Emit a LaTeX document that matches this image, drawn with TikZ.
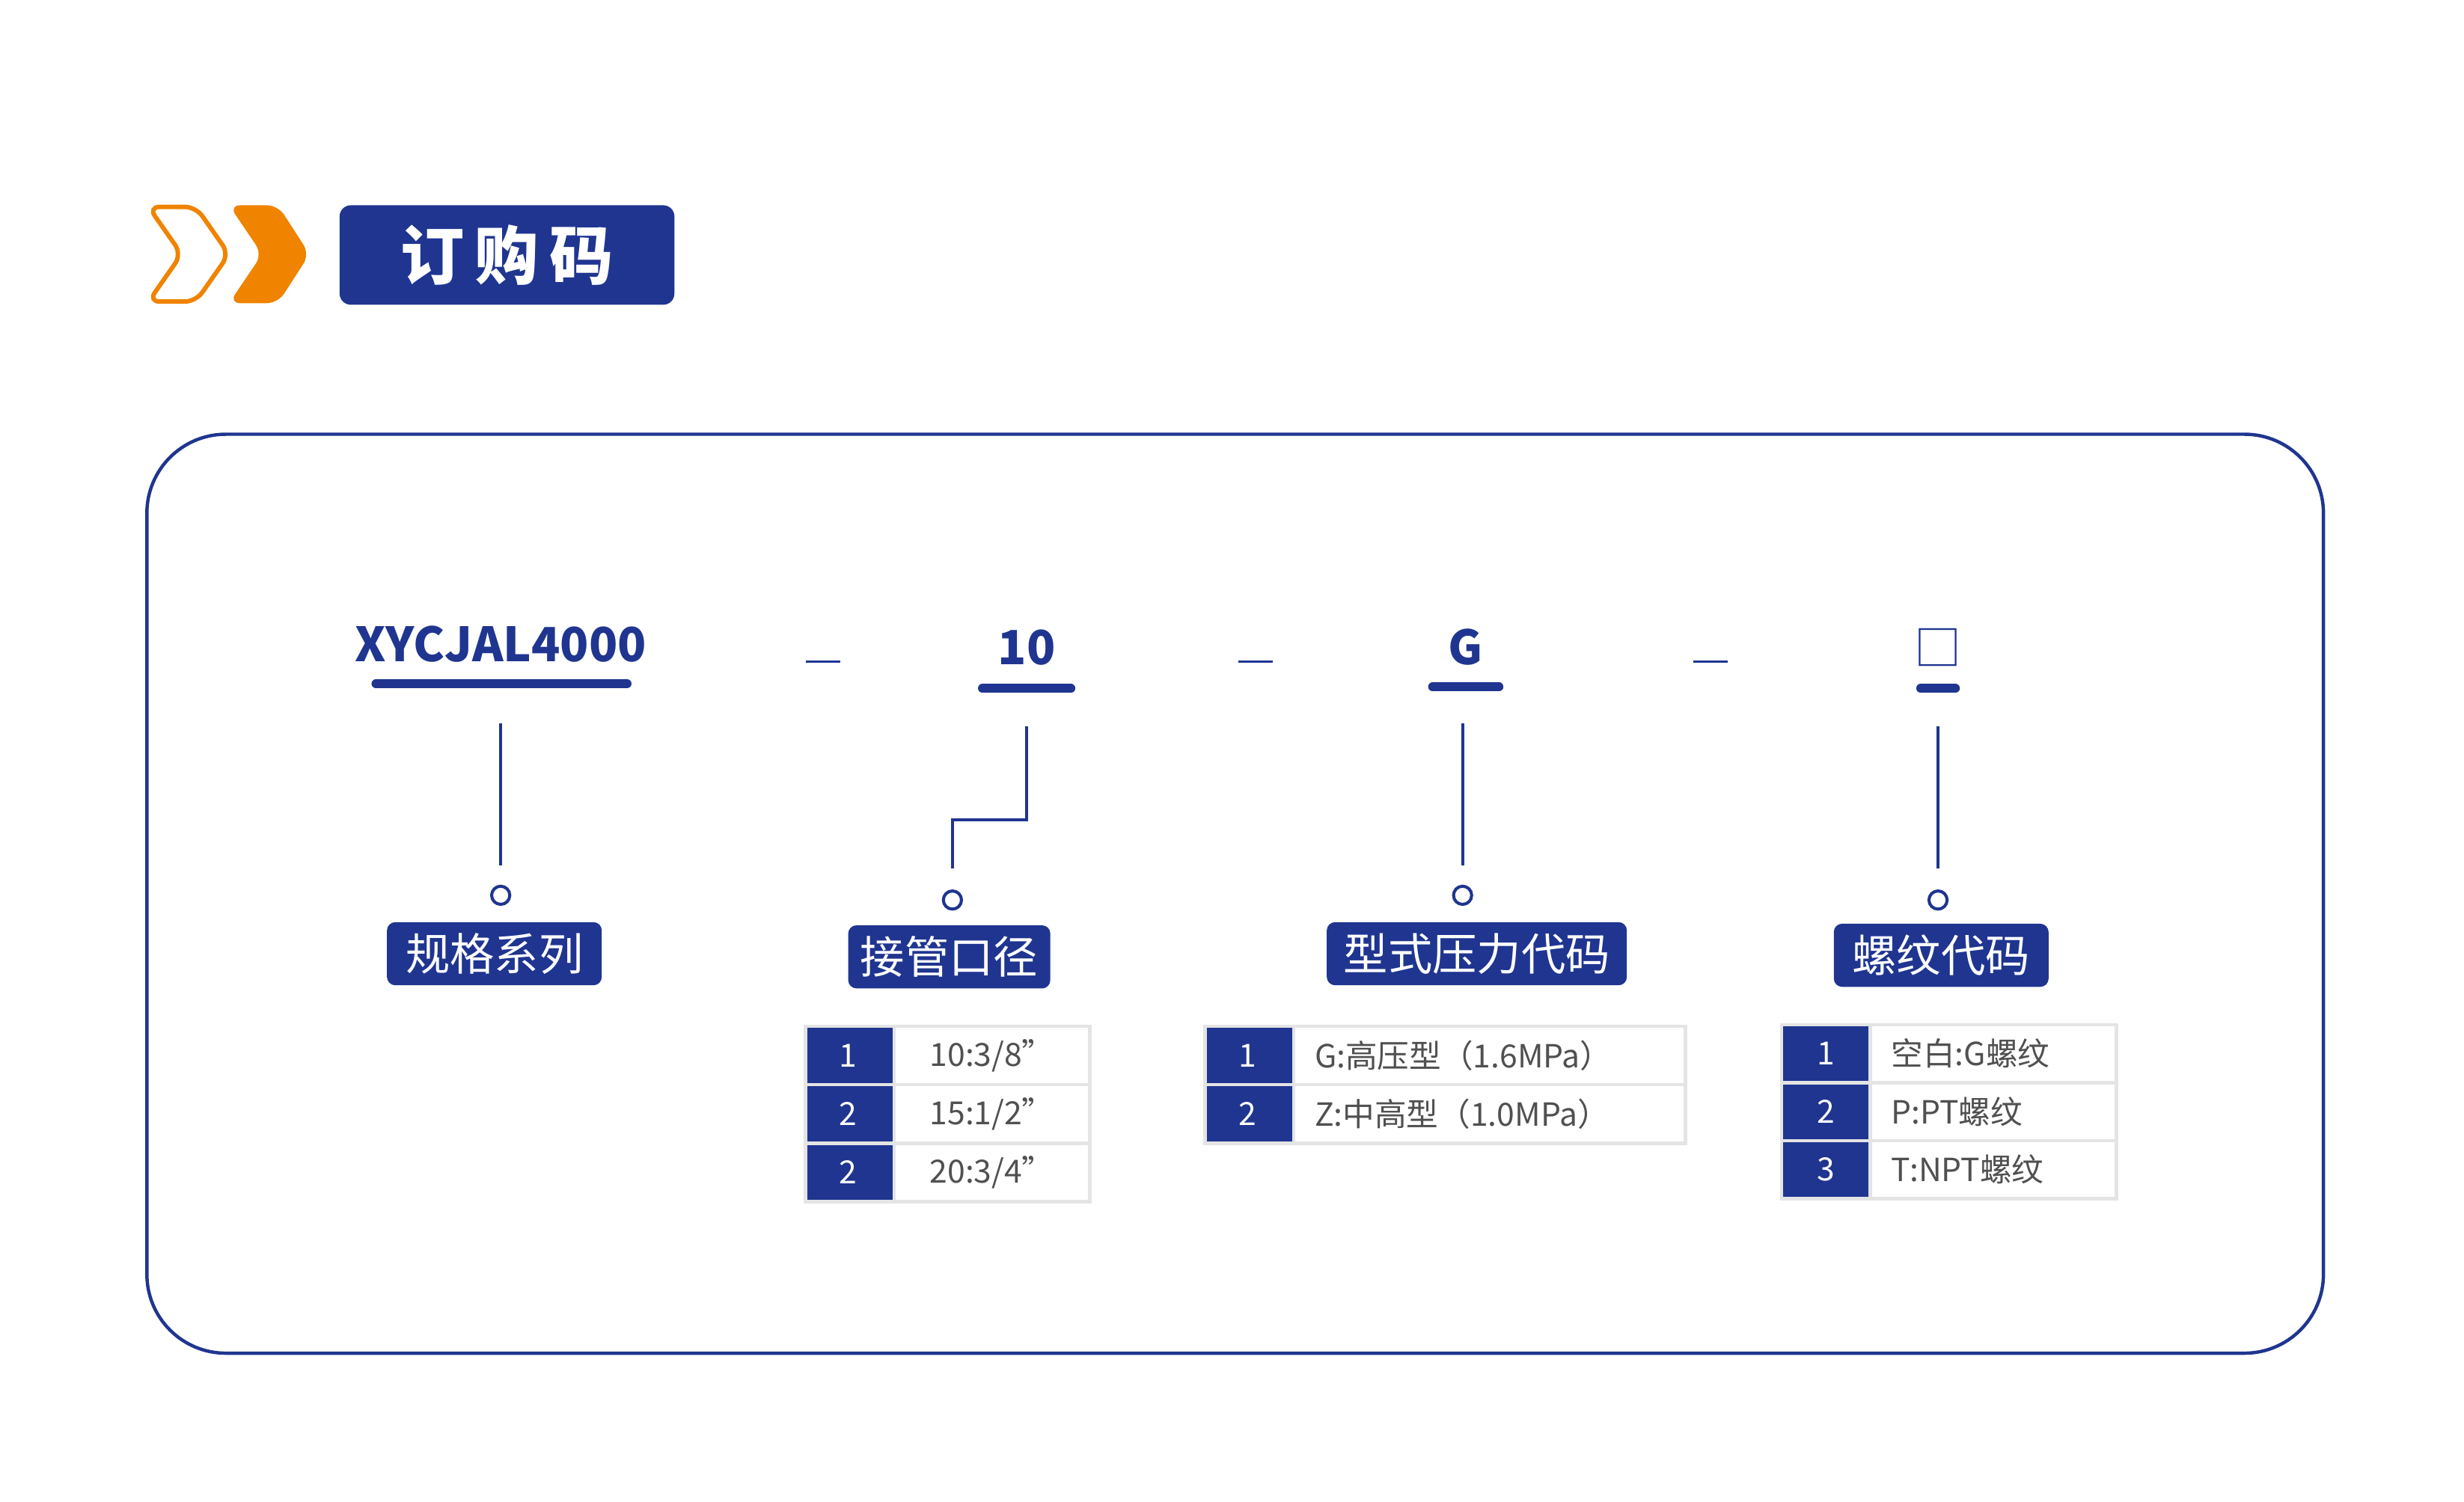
\documentclass[tikz,border=0pt]{standalone}
\usepackage{fontspec}
\setmainfont{Noto Sans CJK SC}
\usetikzlibrary{positioning}
\definecolor{navy}{RGB}{31,53,144}
\definecolor{orng}{RGB}{240,131,0}
\definecolor{cellgray}{RGB}{228,228,228}
\definecolor{txtgray}{RGB}{80,80,80}

\begin{document}
\begin{tikzpicture}[x=0.02cm, y=-0.02cm,
    code/.style={text=navy, font=\fontsize{17}{20}\selectfont\bfseries, inner sep=0pt},
    codebar/.style={navy, line width=3.2pt, line cap=round},
    sep/.style={navy, line width=0.7pt},
    lead/.style={navy, line width=1.1pt},
    tag/.style={fill=navy, text=white, rounded corners=3pt, font=\fontsize{16}{18}\selectfont, inner sep=0pt, minimum height=0.8cm},
    numcell/.style={draw=cellgray, line width=1.2pt, fill=navy},
    valcell/.style={draw=cellgray, line width=1.2pt, fill=white},
    tabtxt/.style={font=\fontsize{11.5}{13}\selectfont, text=txtgray, inner sep=0pt}
]
\useasboundingbox (0,0) rectangle (1560,951);

% header
\draw[orng, line width=1.6pt, rounded corners=4pt] (94,131) -- (124,131) -- (145,161) -- (124,191) -- (94,191) -- (115,161) -- cycle;
\fill[orng, rounded corners=4pt] (145,130) -- (176,130) -- (196,161) -- (176,192) -- (145,192) -- (166,161) -- cycle;
\node[fill=navy, rounded corners=4pt, minimum width=4.24cm, minimum height=1.26cm, text=white,
      font=\fontsize{23}{26}\selectfont\bfseries] (title) at (321,161.5) {订\,购\,码};

% frame
\draw[navy, line width=1.2pt, rounded corners=1cm] (93,275) rectangle (1471,857);

% code parts
\node[code] (series) at (317,408) {XYCJAL4000};
\node[code] (size) at (650,410) {10};
\node[code] (type) at (928,410) {G};
\node[code, font=\fontsize{17}{20}\selectfont] (thread) at (1227,410) {□};
\draw[codebar] (238,433) -- (397,433);
\draw[codebar] (622,436) -- (678,436);
\draw[codebar] (907,435) -- (949,435);
\draw[codebar] (1216,436) -- (1238,436);
\draw[sep] (510,419) -- (532,419);
\draw[sep] (784,419) -- (806,419);
\draw[sep] (1072,419) -- (1094,419);

% circles and leaders
\node[draw=navy, line width=1.1pt, circle, minimum size=0.23cm, inner sep=0pt] (c1) at (317,567) {};
\node[draw=navy, line width=1.1pt, circle, minimum size=0.23cm, inner sep=0pt] (c2) at (603,570) {};
\node[draw=navy, line width=1.1pt, circle, minimum size=0.23cm, inner sep=0pt] (c3) at (926,567) {};
\node[draw=navy, line width=1.1pt, circle, minimum size=0.23cm, inner sep=0pt] (c4) at (1227,570) {};
\draw[lead] (317,458) -- (317,548);
\draw[lead] (650,460) -- (650,519) -- (603,519) -- (603,550);
\draw[lead] (926,458) -- (926,548);
\draw[lead] (1227,460) -- (1227,550);

% tags
\node[tag, minimum width=2.72cm] (tseries) at (313,604) {规格系列};
\node[tag, minimum width=2.56cm] (tsize) at (601,606) {接管口径};
\node[tag, minimum width=3.8cm] (ttype) at (935,604) {型式压力代码};
\node[tag, minimum width=2.72cm] (tthread) at (1229,605) {螺纹代码};

% table: pipe size
\foreach \n/\v [count=\i from 0] in {1/{10:3/8"},2/{15:1/2"},2/{20:3/4"}} {
  \draw[numcell] (510,650+37*\i) rectangle (566,687+37*\i);
  \draw[valcell] (566,650+37*\i) rectangle (690,687+37*\i);
  \node[tabtxt, text=white] at (537,668.5+37*\i) {\n};
  \node[tabtxt] at (628,668.5+37*\i) {\v};
}
% table: type
\foreach \n/\v [count=\i from 0] in {1/{G:高压型（1.6MPa）},2/{Z:中高型（1.0MPa）}} {
  \draw[numcell] (763,650+37*\i) rectangle (819,687+37*\i);
  \draw[valcell] (819,650+37*\i) rectangle (1067,687+37*\i);
  \node[tabtxt, text=white] at (790,668.5+37*\i) {\n};
  \node[tabtxt, anchor=west] at (832,668.5+37*\i) {\v};
}
% table: thread
\foreach \n/\v [count=\i from 0] in {1/{空白:G螺纹},2/{P:PT螺纹},3/{T:NPT螺纹}} {
  \draw[numcell] (1128,649+36.7*\i) rectangle (1184,685.7+36.7*\i);
  \draw[valcell] (1184,649+36.7*\i) rectangle (1340,685.7+36.7*\i);
  \node[tabtxt, text=white] at (1156,667.3+36.7*\i) {\n};
  \node[tabtxt, anchor=west] at (1197,667.3+36.7*\i) {\v};
}
\end{tikzpicture}
\end{document}
